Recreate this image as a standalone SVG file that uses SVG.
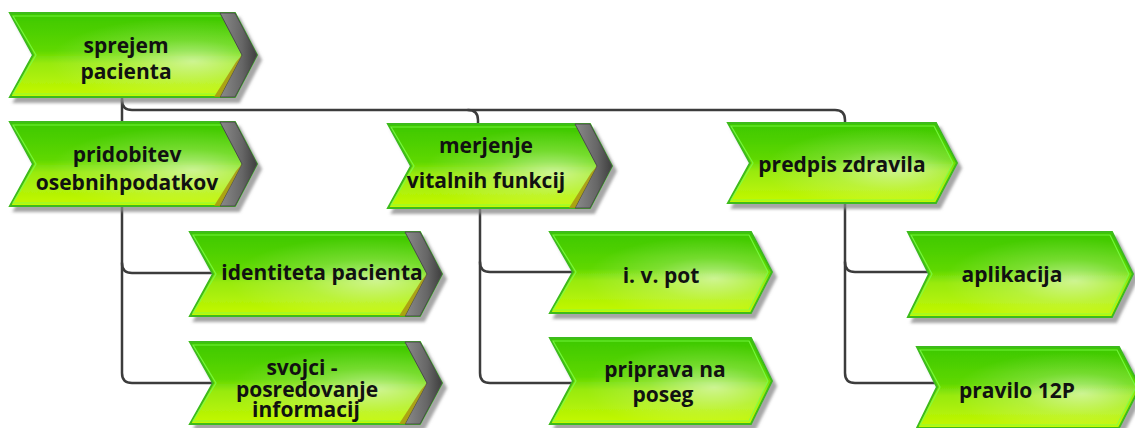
<svg xmlns="http://www.w3.org/2000/svg" width="1135" height="428" viewBox="0 0 1135 428">
<defs>
<linearGradient id="gf" x1="0" y1="0" x2="0" y2="1">
<stop offset="0" stop-color="#3cc800"/>
<stop offset="0.45" stop-color="#5fd800"/>
<stop offset="0.6" stop-color="#98ea10"/>
<stop offset="1" stop-color="#c6f800"/>
</linearGradient>
<radialGradient id="gl" cx="0.7" cy="0.58" r="0.55" fx="0.75" fy="0.58">
<stop offset="0" stop-color="#ffffff" stop-opacity="0.55"/>
<stop offset="0.5" stop-color="#ffffff" stop-opacity="0.18"/>
<stop offset="1" stop-color="#ffffff" stop-opacity="0"/>
</radialGradient>
<linearGradient id="gg" x1="0" y1="0" x2="1" y2="0">
<stop offset="0" stop-color="#8a8a8a"/>
<stop offset="0.6" stop-color="#666666"/>
<stop offset="1" stop-color="#3e3e3e"/>
</linearGradient>
<filter id="sh" x="-5%" y="-10%" width="115%" height="130%">
<feGaussianBlur in="SourceAlpha" stdDeviation="1.5"/>
<feOffset dx="4" dy="5" result="b"/>
<feFlood flood-color="#888888" flood-opacity="0.75"/>
<feComposite in2="b" operator="in"/>
<feMerge><feMergeNode/><feMergeNode in="SourceGraphic"/></feMerge>
</filter>
</defs>
<style>
.body{fill:url(#gf);stroke:#3dbb1a;stroke-width:2;stroke-linejoin:miter}
.gloss{fill:url(#gl);stroke:#7dff4a;stroke-width:1.2;stroke-opacity:0.8}
.deco{fill:url(#gg);stroke:#4a4a4a;stroke-width:1}
.olive{fill:#a89412;opacity:0.85}
.lbl{font-family:"Open Sans","Liberation Sans",sans-serif;font-weight:bold;font-size:21px;fill:#111111;text-anchor:middle}
.con{fill:none;stroke:#3c3c3c;stroke-width:2.5;stroke-linecap:round}
</style>
<g id="connectors">
<path class="con" d="M122,97 V122"/>
<path class="con" d="M122,100 Q122,110 132,110 H835 Q845,110 845,120 V123"/>
<path class="con" d="M468,110 Q478,110 478,120 V124"/>
<path class="con" d="M122,206 V373 Q122,383 132,383 H213"/>
<path class="con" d="M122,263 Q122,273 132,273 H213"/>
<path class="con" d="M480,208 V373 Q480,383 490,383 H573"/>
<path class="con" d="M480,262 Q480,272 490,272 H573"/>
<path class="con" d="M845,203 V373 Q845,383 855,383 H938"/>
<path class="con" d="M845,262 Q845,272 855,272 H929"/>
</g>
<g id="n-sprejem">
<polygon class="body" filter="url(#sh)" points="10,13 235,13 257,55 235,97 10,97 33,55"/>
<polygon class="gloss" points="13,16 233,16 253,55 233,94 13,94 36,55"/>
<polygon class="deco" points="220,13 235,13 257,55 235,97 220,97 242,55"/>
<polygon class="olive" points="236,62 242,55 220,97 214,97" />
<text class="lbl" x="126" y="53">sprejem</text>
<text class="lbl" x="126" y="79">pacienta</text>
</g>
<g id="n-pridobitev">
<polygon class="body" filter="url(#sh)" points="10,122 235,122 257,164 235,206 10,206 33,164"/>
<polygon class="gloss" points="13,125 233,125 253,164 233,203 13,203 36,164"/>
<polygon class="deco" points="220,122 235,122 257,164 235,206 220,206 242,164"/>
<polygon class="olive" points="236,171 242,164 220,206 214,206"/>
<text class="lbl" x="127" y="162">pridobitev</text>
<text class="lbl" x="127" y="190">osebnihpodatkov</text>
</g>
<g id="n-merjenje">
<polygon class="body" filter="url(#sh)" points="388,124 590,124 612,166 590,208 388,208 411,166"/>
<polygon class="gloss" points="391,127 588,127 608,166 588,205 391,205 414,166"/>
<polygon class="deco" points="575,124 590,124 612,166 590,208 575,208 597,166"/>
<polygon class="olive" points="591,173 597,166 575,208 569,208"/>
<text class="lbl" x="486" y="153">merjenje</text>
<text class="lbl" x="486" y="188">vitalnih funkcij</text>
</g>
<g id="n-predpis">
<polygon class="body" filter="url(#sh)" points="728,123 936,123 957,163 936,203 728,203 750,163"/>
<polygon class="gloss" points="731,126 934,126 953,163 934,200 731,200 753,163"/>
<text class="lbl" x="842" y="172">predpis zdravila</text>
</g>
<g id="n-identiteta">
<polygon class="body" filter="url(#sh)" points="190,232 420,232 442,274 420,316 190,316 213,274"/>
<polygon class="gloss" points="193,235 418,235 438,274 418,313 193,313 216,274"/>
<polygon class="deco" points="405,232 420,232 442,274 420,316 405,316 427,274"/>
<polygon class="olive" points="421,281 427,274 405,316 399,316"/>
<text class="lbl" x="322" y="280">identiteta pacienta</text>
</g>
<g id="n-svojci">
<polygon class="body" filter="url(#sh)" points="190,342 420,342 442,383 420,424 190,424 213,383"/>
<polygon class="gloss" points="193,345 418,345 438,383 418,421 193,421 216,383"/>
<polygon class="deco" points="405,342 420,342 442,383 420,424 405,424 427,383"/>
<polygon class="olive" points="421,390 427,383 405,424 399,424"/>
<text class="lbl" x="302" y="375">svojci -</text>
<text class="lbl" x="307" y="397">posredovanje</text>
<text class="lbl" x="306" y="417">informacij</text>
</g>
<g id="n-ivpot">
<polygon class="body" filter="url(#sh)" points="550,232 751,232 772,272 751,313 550,313 573,272"/>
<polygon class="gloss" points="553,235 749,235 768,272 749,310 553,310 576,272"/>
<text class="lbl" x="661" y="283">i. v. pot</text>
</g>
<g id="n-priprava">
<polygon class="body" filter="url(#sh)" points="550,338 751,338 772,381 751,424 550,424 573,381"/>
<polygon class="gloss" points="553,341 749,341 768,381 749,421 553,421 576,381"/>
<text class="lbl" x="665" y="377">priprava na</text>
<text class="lbl" x="663" y="402">poseg</text>
</g>
<g id="n-aplikacija">
<polygon class="body" filter="url(#sh)" points="908,232 1112,232 1133,274 1112,317 908,317 929,274"/>
<polygon class="gloss" points="911,235 1110,235 1129,274 1110,314 911,314 932,274"/>
<text class="lbl" x="1012" y="282">aplikacija</text>
</g>
<g id="n-pravilo">
<polygon class="body" filter="url(#sh)" points="917,347 1119,347 1140,387 1119,428 917,428 937,387"/>
<polygon class="gloss" points="920,350 1117,350 1136,387 1117,425 920,425 940,387"/>
<text class="lbl" x="1017" y="398">pravilo 12P</text>
</g>
</svg>
